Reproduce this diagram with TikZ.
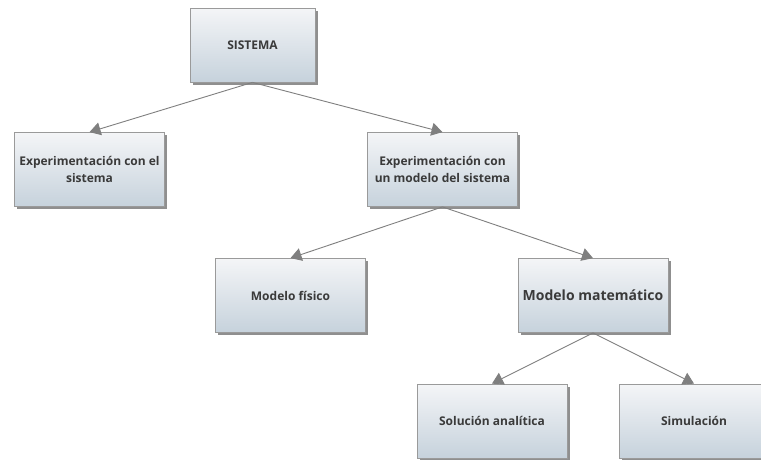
\documentclass[tikz,border=0pt]{standalone}
\usepackage{fontspec}
\setmainfont{Open Sans}
\usetikzlibrary{shadows,arrows.meta}
\definecolor{boxtop}{HTML}{F4F5F7}
\definecolor{boxbot}{HTML}{C6D2DC}
\definecolor{boxline}{HTML}{9A9A9A}
\definecolor{txt}{HTML}{3A3A3A}
\definecolor{conn}{HTML}{7F7F7F}
\tikzset{
  box/.style={rectangle, draw=boxline, line width=0.8pt,
    top color=boxtop, bottom color=boxbot,
    drop shadow={shadow xshift=2.5pt, shadow yshift=-2.5pt, fill=black!55, opacity=0.8},
    minimum width=150pt, minimum height=74pt, align=center,
    text=txt, font=\bfseries\fontsize{12}{17}\selectfont, inner sep=2pt},
  link/.style={draw=conn, line width=0.9pt, -{Triangle[length=11pt,width=13pt]}},
}
\begin{document}
\begin{tikzpicture}[x=1pt,y=-1pt]
\useasboundingbox (0,0) rectangle (761,459);
\node[box, minimum width=125pt] (sis) at (252.5,45) {SISTEMA};
\node[box] (exs) at (89.5,169.5) {Experimentación con el\\sistema};
\node[box] (exm) at (442.5,169.5) {Experimentación con\\un modelo del sistema};
\node[box] (fis) at (290.5,295.5) {Modelo físico};
\node[box, font=\bfseries\fontsize{14}{17}\selectfont] (mat) at (593,295.5) {Modelo matemático};
\node[box] (sol) at (492,421) {Solución analítica};
\node[box] (sim) at (694,421) {Simulación};
\draw[link] (sis.south) -- (exs.north);
\draw[link] (sis.south) -- (exm.north);
\draw[link] (exm.south) -- (fis.north);
\draw[link] (exm.south) -- (mat.north);
\draw[link] (mat.south) -- (sol.north);
\draw[link] (mat.south) -- (sim.north);
\end{tikzpicture}
\end{document}
